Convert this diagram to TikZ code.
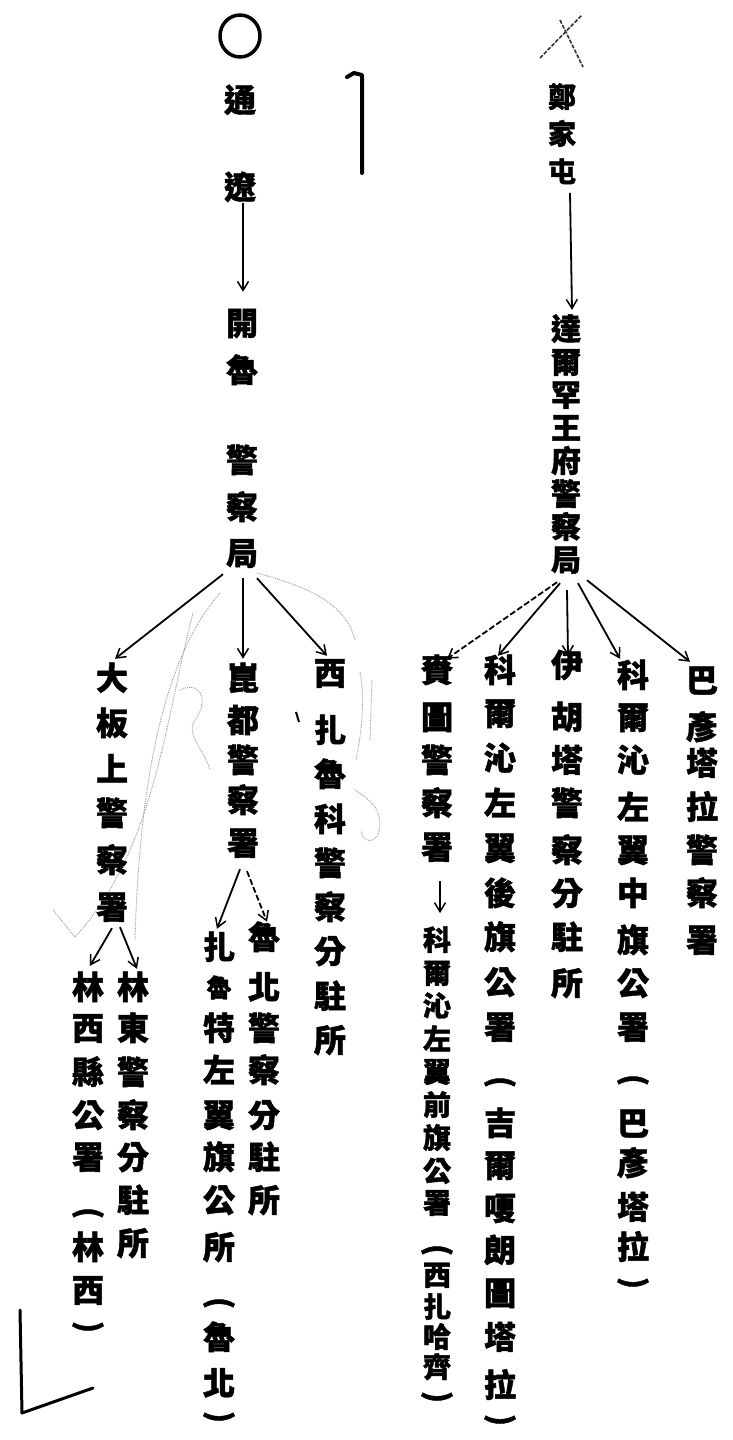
\documentclass[tikz,border=0pt]{standalone}
\usepackage{fontspec}
\newfontfamily\cjk{Noto Sans CJK TC}[BoldFeatures={FakeBold=1.4}]
\usetikzlibrary{arrows.meta}
\newcommand\vcol[4][ch]{\foreach \cc/\yy [count=\i] in {#4} {\node[#1] (#2-\i) at (#3,\yy) {\cc};}}
\begin{document}
\begin{tikzpicture}[x=1pt,y=-1pt,
  ch/.style={inner sep=0pt, text height=28pt, text depth=4pt, font=\cjk\bfseries\fontsize{32}{32}\selectfont},
  chc/.style={inner sep=0pt, text height=26pt, text depth=4pt, font=\cjk\bfseries\fontsize{30}{30}\selectfont},
  chm/.style={inner sep=0pt, text height=24pt, text depth=3.5pt, font=\cjk\bfseries\fontsize{28}{28}\selectfont},
  par/.style={inner sep=0pt, rotate=-90, font=\cjk\bfseries\fontsize{30}{30}\selectfont},
  arr/.style={line width=1.8pt, -{Straight Barb[length=9pt,width=11pt,line width=1.5pt]}},
  dsh/.style={dash pattern=on 6pt off 2.5pt},
  pencil/.style={black!40, line width=0.9pt, densely dotted},
  xstroke/.style={black!80, line width=1.6pt, dash pattern=on 4pt off 1.5pt},
  inkmark/.style={line width=3.5pt, line cap=round, line join=round}]
\useasboundingbox[fill=white] (0,0) rectangle (732,1440);

% ---- hand marks ----
\draw[inkmark] (240,36) ellipse [x radius=20pt, y radius=21pt];
\draw[inkmark, line width=4pt] (347,77) -- (354,73) -- (362,75) -- (362,173);
\draw[xstroke] (540,58) -- (582,15);
\draw[xstroke] (560,20) -- (583,67);
\draw[inkmark, line width=3pt] (20,1310) -- (22,1413) -- (93,1388);
\draw[line width=2pt] (296,712) -- (299,722);

% ---- pencil scribbles ----
\draw[pencil] (220,593) .. controls (170,650) and (140,760) .. (135,940);
\draw[pencil] (193,613) .. controls (165,720) and (155,850) .. (75,937);
\draw[pencil] (53,910) -- (75,937);
\draw[pencil] (180,690) .. controls (200,680) and (210,700) .. (195,720) .. controls (185,735) and (205,750) .. (210,770);
\draw[pencil] (257,573) .. controls (300,585) and (345,600) .. (355,640);
\draw[pencil] (360,672) .. controls (365,700) and (362,730) .. (356,760);
\draw[pencil] (372,680) -- (370,740);
\draw[pencil] (355,790) .. controls (370,800) and (385,810) .. (378,835) .. controls (372,845) and (360,840) .. (362,830);

% ---- left tree ----
\vcol{LA}{240}{通/100,遼/187}
\vcol{LB}{242}{開/323,魯/370,警/460,察/507,局/553}
\vcol{LC}{112}{大/678,板/723,上/769,警/813,察/860,署/907}
\vcol{LD}{243}{崑/678,都/720,警/760,察/800,署/843}
\vcol{LE}{330}{西/673,扎/730,魯/774,科/819,警/863,察/907,分/951,駐/996,所/1040}
\vcol{LF}{88}{林/987,西/1028,縣/1072,公/1115,署/1157,林/1247,西/1290}
\node[par] (LF-p1) at (88,1213) {(};
\node[par] (LF-p2) at (88,1327) {)};
\vcol{LG}{133}{林/987,東/1028,警/1072,察/1115,分/1157,駐/1200,所/1243}
\vcol{LH}{219}{扎/947,{\fontsize{25}{25}\selectfont 魯}/985,特/1028,左/1070,翼/1115,旗/1157,公/1200,所/1247,魯/1337,北/1383}
\node[par] (LH-p1) at (219,1303) {(};
\node[par] (LH-p2) at (219,1417) {)};
\vcol{LI}{264}{魯/937,北/987,警/1028,察/1070,分/1115,駐/1157,所/1200}

\draw[arr] ([xshift=3pt]LA-2.south) -- ([xshift=1pt,yshift=15pt]LB-1.north);
\draw[arr] ([xshift=-19pt,yshift=-5pt]LB-5.south) -- ([xshift=3pt,yshift=3pt]LC-1.north);
\draw[arr] ([xshift=1pt,yshift=-9pt]LB-5.south) -- ([yshift=3pt]LD-1.north);
\draw[arr] ([xshift=15pt,yshift=-9pt]LB-5.south) -- ([xshift=-3pt,yshift=1pt]LE-1.north);
\draw[arr] ([yshift=-5pt]LC-6.south) -- ([xshift=2pt,yshift=5pt]LF-1.north);
\draw[arr] ([xshift=8pt,yshift=-4pt]LC-6.south) -- ([xshift=4pt,yshift=2pt]LG-1.north);
\draw[arr] ([xshift=-3pt,yshift=-10pt]LD-5.south) -- ([xshift=-2pt,yshift=2pt]LH-1.north);
\draw[arr, dsh] ([xshift=4pt,yshift=-12pt]LD-5.south) -- ([xshift=3pt,yshift=-1pt]LI-1.north);

% ---- right tree ----
\vcol[chm]{RA}{562}{鄭/97,家/134,屯/172}
\vcol[chc]{RB}{566}{達/329,爾/362,罕/395,王/428,府/461,警/494,察/527,局/560}
\vcol{RC}{437}{賚/670,圖/717,警/760,察/803,署/847}
\vcol[chm]{RD}{437}{科/940,爾/973,沁/1006,左/1039,翼/1072,前/1105,旗/1138,公/1171,署/1203,西/1275,扎/1307,哈/1337,齊/1367}
\node[par] (RD-p1) at (437,1250) {(};
\node[par] (RD-p2) at (437,1397) {)};
\vcol{RE}{500}{科/670,爾/713,沁/758,左/803,翼/848,後/893,旗/937,公/982,署/1027,吉/1123,爾/1165,嗄/1208,朗/1250,圖/1293,塔/1337,拉/1385}
\node[par] (RE-p1) at (500,1082) {(};
\node[par] (RE-p2) at (500,1420) {)};
\vcol{RF}{567}{伊/665,胡/717,塔/760,警/803,察/850,分/893,駐/937,所/983}
\vcol{RG}{633}{科/675,爾/717,沁/760,左/807,翼/850,中/893,旗/940,公/983,署/1027,巴/1123,彥/1163,塔/1207,拉/1247}
\node[par] (RG-p1) at (633,1080) {(};
\node[par] (RG-p2) at (633,1283) {)};
\vcol{RH}{702}{巴/680,彥/727,塔/763,拉/807,警/850,察/893,署/940}

\draw[arr] ([xshift=8pt,yshift=-7pt]RA-3.south) -- ([xshift=6pt,yshift=4pt]RB-1.north);
\draw[arr, dsh] ([xshift=-9pt,yshift=-7pt]RB-8.south) -- ([xshift=10pt,yshift=-5pt]RC-1.north);
\draw[arr] ([xshift=-6pt,yshift=-8pt]RB-8.south) -- ([xshift=-2pt,yshift=-2pt]RE-1.north);
\draw[arr] ([xshift=1pt,yshift=-15pt]RB-8.south) -- ([xshift=1pt,yshift=-7pt]RF-1.north);
\draw[arr] ([xshift=12pt,yshift=-8pt]RB-8.south) -- ([xshift=-13pt]RG-1.north);
\draw[arr] ([xshift=21pt,yshift=-5pt]RB-8.south) -- ([xshift=-12pt,yshift=2pt]RH-1.north);
\draw[arr] ([xshift=3pt,yshift=-18pt]RC-5.south) -- ([xshift=3pt,yshift=13pt]RD-1.north);
\end{tikzpicture}
\end{document}
